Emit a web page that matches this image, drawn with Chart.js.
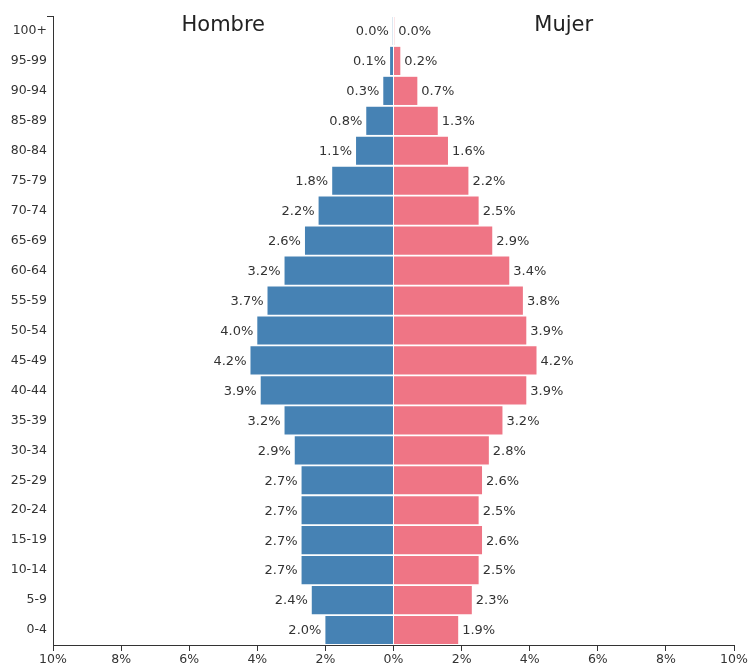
<!DOCTYPE html>
<html>
<head>
<meta charset="utf-8">
<script src="https://cdn.jsdelivr.net/npm/chart.js@4/dist/chart.umd.min.js"></script>
<style>
  html, body { margin: 0; padding: 0; background: #fff; }
  #wrap { width: 751px; height: 668px; }
</style>
</head>
<body>
<div id="wrap"><canvas id="chart" width="751" height="668"></canvas></div>
<script>
// age groups, top to bottom
const ageGroups = ['100+', '95-99', '90-94', '85-89', '80-84', '75-79', '70-74', '65-69', '60-64', '55-59',
    '50-54', '45-49', '40-44', '35-39', '30-34', '25-29', '20-24', '15-19', '10-14', '5-9', '0-4'];
// percent of population
const male   = [0.02, 0.1, 0.3, 0.8, 1.1, 1.8, 2.2, 2.6, 3.2, 3.7, 4.0, 4.2, 3.9, 3.2, 2.9, 2.7, 2.7, 2.7, 2.7, 2.4, 2.0];
const female = [0.02, 0.2, 0.7, 1.3, 1.6, 2.2, 2.5, 2.9, 3.4, 3.8, 3.9, 4.2, 3.9, 3.2, 2.8, 2.6, 2.5, 2.6, 2.5, 2.3, 1.9];
const xTicks = [-10, -8, -6, -4, -2, 0, 2, 4, 6, 8, 10];

const font = 'DejaVu Sans, sans-serif';
const textColor = '#333';

// bar end labels + side titles
const labelPlugin = {
    id: 'pyramidLabels',
    afterDatasetsDraw(chart) {
        const ctx = chart.ctx;
        const x = chart.scales.x;
        const area = chart.chartArea;
        ctx.save();
        ctx.font = '13px ' + font;
        ctx.fillStyle = textColor;
        ctx.textBaseline = 'middle';
        chart.data.datasets.forEach((ds, i) => {
            const meta = chart.getDatasetMeta(i);
            meta.data.forEach((bar, j) => {
                const v = Math.abs(ds.data[j]).toFixed(1) + '%';
                if (ds.data[j] < 0) {
                    ctx.textAlign = 'right';
                    ctx.fillText(v, bar.x - 4, bar.y + 1);
                } else {
                    ctx.textAlign = 'left';
                    ctx.fillText(v, bar.x + 4, bar.y + 1);
                }
            });
        });
        ctx.font = '21px ' + font;
        ctx.fillStyle = '#222';
        ctx.textAlign = 'center';
        ctx.fillText('Hombre', x.getPixelForValue(-5), area.top + 10);
        ctx.fillText('Mujer', x.getPixelForValue(5), area.top + 10);
        // small outer tick at the top of the y axis
        ctx.strokeStyle = '#333';
        ctx.lineWidth = 1;
        ctx.beginPath();
        ctx.moveTo(area.left - 6, area.top + 0.5);
        ctx.lineTo(area.left, area.top + 0.5);
        ctx.stroke();
        ctx.restore();
    }
};

new Chart(document.getElementById('chart').getContext('2d'), {
    type: 'bar',
    data: {
        labels: ageGroups,
        datasets: [
            {
                label: 'Hombre',
                data: male.map(v => -v),
                backgroundColor: '#4682b4',
                barPercentage: 0.94,
                categoryPercentage: 1
            },
            {
                label: 'Mujer',
                data: female,
                backgroundColor: '#ef7585',
                barPercentage: 0.94,
                categoryPercentage: 1
            }
        ]
    },
    options: {
        indexAxis: 'y',
        responsive: false,
        animation: false,
        layout: { padding: { top: 16, right: 17, left: 0, bottom: 0 } },
        plugins: {
            legend: { display: false },
            tooltip: { enabled: false }
        },
        scales: {
            x: {
                stacked: true,
                min: -10,
                max: 10,
                afterBuildTicks: s => { s.ticks = xTicks.map(v => ({ value: v })); },
                ticks: {
                    callback: v => Math.abs(v) + '%',
                    color: textColor,
                    font: { family: font, size: 12.5 },
                    padding: 1,
                    maxRotation: 0
                },
                grid: { display: true, drawOnChartArea: false, drawTicks: true, tickLength: 6, color: '#333' },
                border: { display: true, color: '#333' },
                afterFit: s => { s.height = 23; }
            },
            y: {
                stacked: true,
                ticks: {
                    color: textColor,
                    font: { family: font, size: 12.5 },
                    padding: 6
                },
                grid: { display: false, drawTicks: false },
                border: { display: true, color: '#333' },
                afterFit: s => { s.width = 53; }
            }
        }
    },
    plugins: [labelPlugin]
});
</script>
</body>
</html>
